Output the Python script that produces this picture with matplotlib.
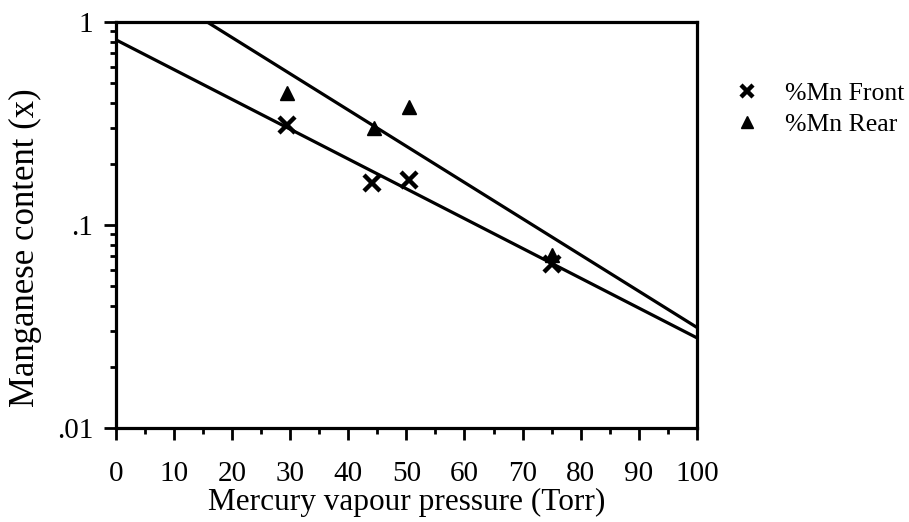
import numpy as np
import matplotlib.pyplot as plt
from matplotlib.ticker import FixedLocator, FixedFormatter, LogLocator, NullFormatter

plt.rcParams['font.family'] = ['Liberation Serif', 'DejaVu Serif']

# Mercury vapour pressure (Torr) and Mn content for the two sides
pressure_front = [29.5, 44.0, 50.5, 75.0]
mn_front = [0.31, 0.161, 0.167, 0.064]
pressure_rear = [29.5, 44.5, 50.5, 75.0]
mn_rear = [0.447, 0.30, 0.381, 0.071]

x_ticks = [0, 10, 20, 30, 40, 50, 60, 70, 80, 90, 100]
y_ticks = [0.01, 0.1, 1]
y_tick_labels = [".01", ".1", "1"]

fig = plt.figure(figsize=(9.09, 5.22), dpi=100)
ax = fig.add_axes([0.1276, 0.18, 0.639, 0.778])

ax.set_yscale("log")
ax.set_xlim(0, 100)
ax.set_ylim(0.01, 1)

# exponential fits (straight lines on the log axis)
xf = np.array([0, 100])
for px, py in [(pressure_front, mn_front), (pressure_rear, mn_rear)]:
    slope, icpt = np.polyfit(px, np.log10(py), 1)
    ax.plot(xf, 10 ** (icpt + slope * xf), color="black", lw=2.3, zorder=2)

ax.plot(pressure_front, mn_front, "x", color="black", ms=11, mew=3.2,
        label="%Mn Front", zorder=3)
ax.plot(pressure_rear, mn_rear, "^", color="black", ms=10.5,
        label="%Mn Rear", zorder=3)

ax.xaxis.set_major_locator(FixedLocator(x_ticks))
ax.xaxis.set_minor_locator(FixedLocator(np.arange(5, 100, 10)))
ax.yaxis.set_major_locator(FixedLocator(y_ticks))
ax.yaxis.set_major_formatter(FixedFormatter(y_tick_labels))
ax.yaxis.set_minor_locator(LogLocator(base=10, subs=np.arange(2, 10)))
ax.yaxis.set_minor_formatter(NullFormatter())

ax.tick_params(which="major", direction="out", length=8.5, width=2,
               labelsize=21)
ax.tick_params(axis="x", which="major", pad=15)
ax.tick_params(axis="y", which="major", pad=8)
ax.tick_params(which="minor", direction="out", length=4.5, width=2)
for s in ax.spines.values():
    s.set_linewidth(2.3)

ax.set_xlabel("Mercury vapour pressure (Torr)", fontsize=22.5, labelpad=1)
ax.set_ylabel("Manganese content (x)", fontsize=25)
ax.yaxis.set_label_coords(-0.127, 0.443)

ax.legend(loc="upper left", bbox_to_anchor=(1.065, 0.852), frameon=False,
          fontsize=18.5, handlelength=1.0, handletextpad=0.95,
          labelspacing=0.3, borderaxespad=0, borderpad=0, markerscale=0.85)

fig.savefig("out.png", dpi=100)
